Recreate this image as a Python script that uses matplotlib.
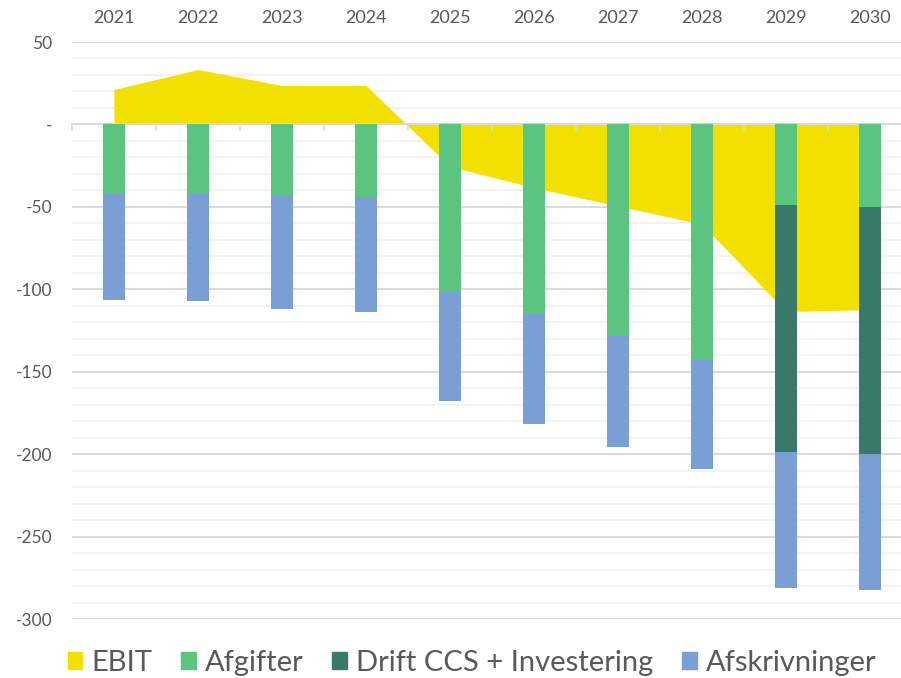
import numpy as np
import matplotlib.pyplot as plt
from matplotlib.patches import Patch
from matplotlib.ticker import FuncFormatter, MultipleLocator

# data (mio.)
years = ["2021", "2022", "2023", "2024", "2025", "2026", "2027", "2028", "2029", "2030"]
ebit = [21.2, 33.3, 23.6, 23.6, -25.5, -38.4, -49.5, -60.5, -113.5, -112.3]
afgifter = [-41.9, -42.5, -43.3, -44.1, -101.2, -114.7, -128.3, -142.6, -49.0, -49.8]
drift_ccs = [0, 0, 0, 0, 0, 0, 0, 0, -149.7, -150.1]
afskrivninger = [-64.9, -64.9, -68.6, -69.8, -66.8, -67.0, -67.5, -66.7, -82.3, -82.3]

c_ebit = "#F2E100"
c_afg = "#5BC47E"
c_drift = "#38796A"
c_afs = "#7A9FD4"
txt = "#595959"

plt.rcParams['font.family'] = ['Lato', 'DejaVu Sans']

fig = plt.figure(figsize=(9.01, 6.78), dpi=100)
# axes runs a bit past the right edge like the cropped original
ax = fig.add_axes([72 / 901, 1 - 619 / 678, 840 / 901, 577 / 678])

x = np.arange(len(years))
afg = np.array(afgifter)
dri = np.array(drift_ccs)
afs = np.array(afskrivninger)

ax.fill_between(x, ebit, 0, color=c_ebit, lw=0, zorder=1)

w = 0.27
ax.bar(x, afg, w, color=c_afg, zorder=3)
ax.bar(x, dri, w, bottom=afg, color=c_drift, zorder=3)
ax.bar(x, afs, w, bottom=afg + dri, color=c_afs, zorder=3)

ax.set_xlim(-0.5, len(years) - 0.5)
ax.set_ylim(-300, 50)

# gridlines
ax.yaxis.set_major_locator(MultipleLocator(50))
ax.yaxis.set_minor_locator(MultipleLocator(10))
ax.grid(axis='y', which='major', color='#D9D9D9', lw=1.4)
ax.grid(axis='y', which='minor', color='#F2F2F2', lw=1.4)
ax.set_axisbelow(True)
ax.xaxis.set_zorder(2.6)

ax.yaxis.set_major_formatter(FuncFormatter(lambda v, p: "-" if v == 0 else f"{v:.0f}"))
ax.tick_params(axis='y', which='both', length=0, pad=14, labelsize=12.5, labelcolor=txt)

# category labels on top, boundary ticks on the zero line
ax.set_xticks(x)
ax.set_xticklabels(years)
ax.set_xticks(np.arange(len(years) + 1) - 0.5, minor=True)
ax.tick_params(axis='x', which='major', bottom=False, top=False, labeltop=True,
               labelbottom=False, labelsize=13, labelcolor=txt, pad=8)
ax.tick_params(axis='x', which='minor', bottom=True, top=False, length=5,
               width=1.2, color='#D9D9D9')

for s in ['top', 'left', 'right']:
    ax.spines[s].set_visible(False)
ax.spines['bottom'].set_position(('data', 0))
ax.spines['bottom'].set_color('#D9D9D9')
ax.spines['bottom'].set_linewidth(1.4)

handles = [Patch(color=c_ebit, label="EBIT"),
           Patch(color=c_afg, label="Afgifter"),
           Patch(color=c_drift, label="Drift CCS + Investering"),
           Patch(color=c_afs, label="Afskrivninger")]
fig.legend(handles=handles, loc='center', bbox_to_anchor=(472 / 901, 1 - 663 / 678),
           ncol=4, frameon=False, fontsize=21, labelcolor=txt,
           handlelength=0.5, handleheight=0.5, handletextpad=0.3, columnspacing=1.0)

fig.savefig("out.png", dpi=100)
